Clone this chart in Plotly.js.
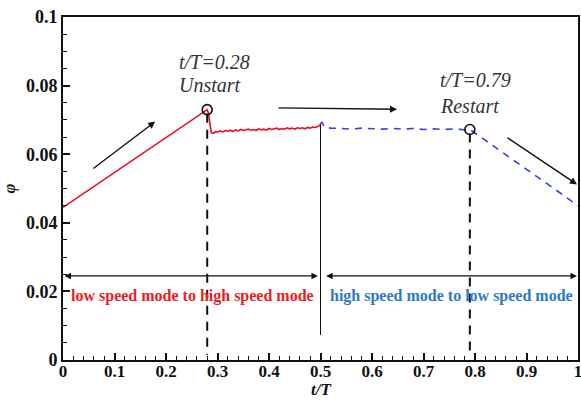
<!DOCTYPE html>
<html>
<head>
<meta charset="utf-8">
<script src="https://cdn.plot.ly/plotly-3.0.1.min.js"></script>
<style>
  html, body { margin: 0; padding: 0; background: #fff; }
  #chart { width: 581px; height: 400px; }
</style>
</head>
<body>
<div id="chart"></div>
<script>
// Mode transition: low -> high speed (red), high -> low speed (blue dashed)
const lowToHighT = [0, 0.05, 0.10, 0.15, 0.20, 0.25, 0.28, 0.282, 0.285, 0.288, 0.292, 0.296, 0.30, 0.305,
  0.31, 0.315, 0.32, 0.325, 0.33, 0.335, 0.34, 0.345, 0.35, 0.355, 0.36, 0.365, 0.37, 0.375, 0.38,
  0.385, 0.39, 0.395, 0.40, 0.405, 0.41, 0.415, 0.42, 0.425, 0.43, 0.435, 0.44, 0.445, 0.45, 0.455,
  0.46, 0.465, 0.47, 0.475, 0.48, 0.485, 0.49, 0.495, 0.498, 0.50];
const lowToHighPhi = [0.0445, 0.0496, 0.0547, 0.0598, 0.0649, 0.0700, 0.0730, 0.0722, 0.0690, 0.0663, 0.0661, 0.0666, 0.0664, 0.0668,
  0.0665, 0.0669, 0.0667, 0.0670, 0.0666, 0.0671, 0.0668, 0.0672, 0.0669, 0.0671, 0.0673, 0.0670, 0.0672, 0.0669, 0.0674,
  0.0671, 0.0673, 0.0670, 0.0675, 0.0672, 0.0674, 0.0676, 0.0672, 0.0675, 0.0673, 0.0677, 0.0674, 0.0676, 0.0673, 0.0677,
  0.0675, 0.0677, 0.0674, 0.0678, 0.0676, 0.0679, 0.0678, 0.0681, 0.0683, 0.0688];

const highToLowT = [0.50, 0.503, 0.507, 0.52, 0.54, 0.56, 0.58, 0.60, 0.62, 0.64, 0.66, 0.68, 0.70,
  0.72, 0.74, 0.76, 0.78, 0.79, 0.82, 0.86, 0.90, 0.94, 0.98, 1.0];
const highToLowPhi = [0.0688, 0.0694, 0.0679, 0.0676, 0.0675, 0.0673, 0.0676, 0.0674, 0.0673, 0.0675, 0.0673, 0.0675, 0.0672,
  0.0674, 0.0672, 0.0674, 0.0671, 0.0672, 0.0641, 0.0599, 0.0556, 0.0514, 0.0471, 0.0450];

// Event instants
const eventT = [0.28, 0.79];
const eventPhi = [0.0730, 0.0672];
const eventNames = ['Unstart', 'Restart'];

// Axis ticks
const xTicks = [0, 0.1, 0.2, 0.3, 0.4, 0.5, 0.6, 0.7, 0.8, 0.9, 1];
const xTickText = ['0', '0.1', '0.2', '0.3', '0.4', '0.5', '0.6', '0.7', '0.8', '0.9', '1'];
const yTicks = [0, 0.02, 0.04, 0.06, 0.08, 0.1];
const yTickText = ['0', '0.02', '0.04', '0.06', '0.08', '0.1'];

// Mode labels
const modeLabels = ['low speed mode to high speed mode', 'high speed mode to low speed mode'];
const modeCenters = [0.252, 0.755];
const modeSpans = [[0, 0.495], [0.508, 0.998]];

const serif = "'Liberation Serif', 'Times New Roman', serif";

const traces = [
  { x: lowToHighT, y: lowToHighPhi, mode: 'lines', line: { color: '#e8101a', width: 1.6 }, hoverinfo: 'skip' },
  { x: highToLowT, y: highToLowPhi, mode: 'lines', line: { color: '#3340f0', width: 1.6, dash: '7px,6px' }, hoverinfo: 'skip' },
  // dashed guides at the event instants
  { x: [eventT[0], eventT[0]], y: [eventPhi[0] - 0.0012, 0.0015], mode: 'lines',
    line: { color: '#111', width: 2, dash: '9px,7px' }, hoverinfo: 'skip' },
  { x: [eventT[1], eventT[1]], y: [eventPhi[1] - 0.0012, 0.0015], mode: 'lines',
    line: { color: '#111', width: 2, dash: '9px,7px' }, hoverinfo: 'skip' },
  // divider between the two modes
  { x: [0.5, 0.5], y: [0.0688, 0.0073], mode: 'lines', line: { color: '#111', width: 1 }, hoverinfo: 'skip' },
  { x: eventT, y: eventPhi, mode: 'markers',
    marker: { symbol: 'circle-open', size: 10, color: '#111', line: { width: 1.6, color: '#111' } }, hoverinfo: 'skip' }
];

const labelFont = { family: serif, size: 20, color: '#333', style: 'italic' };
const annotations = [];
// event labels
annotations.push({ x: 0.221, y: 0.0870, xref: 'x', yref: 'y', xanchor: 'left', yanchor: 'middle',
  text: 't/T=' + eventT[0].toFixed(2), showarrow: false, font: labelFont });
annotations.push({ x: 0.221, y: 0.0803, xref: 'x', yref: 'y', xanchor: 'left', yanchor: 'middle',
  text: eventNames[0], showarrow: false, font: labelFont });
annotations.push({ x: 0.728, y: 0.0815, xref: 'x', yref: 'y', xanchor: 'left', yanchor: 'middle',
  text: 't/T=' + eventT[1].toFixed(2), showarrow: false, font: labelFont });
annotations.push({ x: 0.729, y: 0.0741, xref: 'x', yref: 'y', xanchor: 'left', yanchor: 'middle',
  text: eventNames[1], showarrow: false, font: labelFont });

// mode labels and their double-headed span arrows
const modeColors = ['#ee1c25', '#2b7cc8'];
for (let i = 0; i < 2; i++) {
  annotations.push({ x: modeCenters[i], y: 0.0187, xref: 'x', yref: 'y', showarrow: false,
    text: modeLabels[i], font: { family: serif, size: 16, color: modeColors[i], weight: 'bold' } });
  annotations.push({ x: modeSpans[i][1], y: 0.0245, ax: modeSpans[i][0], ay: 0.0245,
    xref: 'x', yref: 'y', axref: 'x', ayref: 'y', text: '', showarrow: true,
    arrowhead: 2, startarrowhead: 2, arrowside: 'end+start', arrowsize: 1, startarrowsize: 1,
    arrowwidth: 1.3, arrowcolor: '#111' });
}

// trend arrows
const trendArrows = [
  [0.056, 0.0555, 0.179, 0.0695],
  [0.4155, 0.0735, 0.6485, 0.0731],
  [0.860, 0.0651, 0.998, 0.0512]
];
trendArrows.forEach(a => annotations.push({ ax: a[0], ay: a[1], x: a[2], y: a[3],
  xref: 'x', yref: 'y', axref: 'x', ayref: 'y', text: '', showarrow: true,
  arrowhead: 2, arrowsize: 1, arrowwidth: 1.4, arrowcolor: '#111' }));

// x-axis title placed just under the tick labels
annotations.push({ x: 0.5, y: 0, xref: 'paper', yref: 'paper', xanchor: 'center', yanchor: 'bottom',
  yshift: -41, text: 't/T', showarrow: false,
  font: { family: serif, size: 17, color: '#111', weight: 'bold', style: 'italic' } });

const layout = {
  width: 581, height: 400,
  margin: { l: 63, r: 3, t: 17, b: 40 },
  paper_bgcolor: '#fff', plot_bgcolor: '#fff',
  showlegend: false,
  xaxis: {
    range: [0, 1], tickmode: 'array', tickvals: xTicks, ticktext: xTickText,
    ticklabeloverflow: 'allow', ticklabelstandoff: -5,
    showgrid: false, zeroline: false,
    showline: true, linecolor: '#111', linewidth: 2, mirror: true,
    ticks: 'inside', ticklen: 7, tickwidth: 2, tickcolor: '#111',
    minor: { dtick: 0.02, tick0: 0, ticks: 'inside', ticklen: 4, tickwidth: 1, tickcolor: '#111' },
    tickfont: { family: serif, size: 17, color: '#111', weight: 'bold' }
  },
  yaxis: {
    range: [0, 0.1], tickmode: 'array', tickvals: yTicks, ticktext: yTickText,
    showgrid: false, zeroline: false,
    showline: true, linecolor: '#111', linewidth: 2, mirror: true,
    ticks: 'inside', ticklen: 7, tickwidth: 2, tickcolor: '#111',
    minor: { dtick: 0.005, tick0: 0, ticks: 'inside', ticklen: 4, tickwidth: 1, tickcolor: '#111' },
    tickfont: { family: serif, size: 18, color: '#111', weight: 'bold' },
    title: { text: 'φ', font: { family: serif, size: 17, color: '#111', weight: 'bold', style: 'italic' }, standoff: 6 }
  },
  annotations: annotations
};

Plotly.newPlot('chart', traces, layout, { displayModeBar: false, staticPlot: true });
</script>
</body>
</html>
